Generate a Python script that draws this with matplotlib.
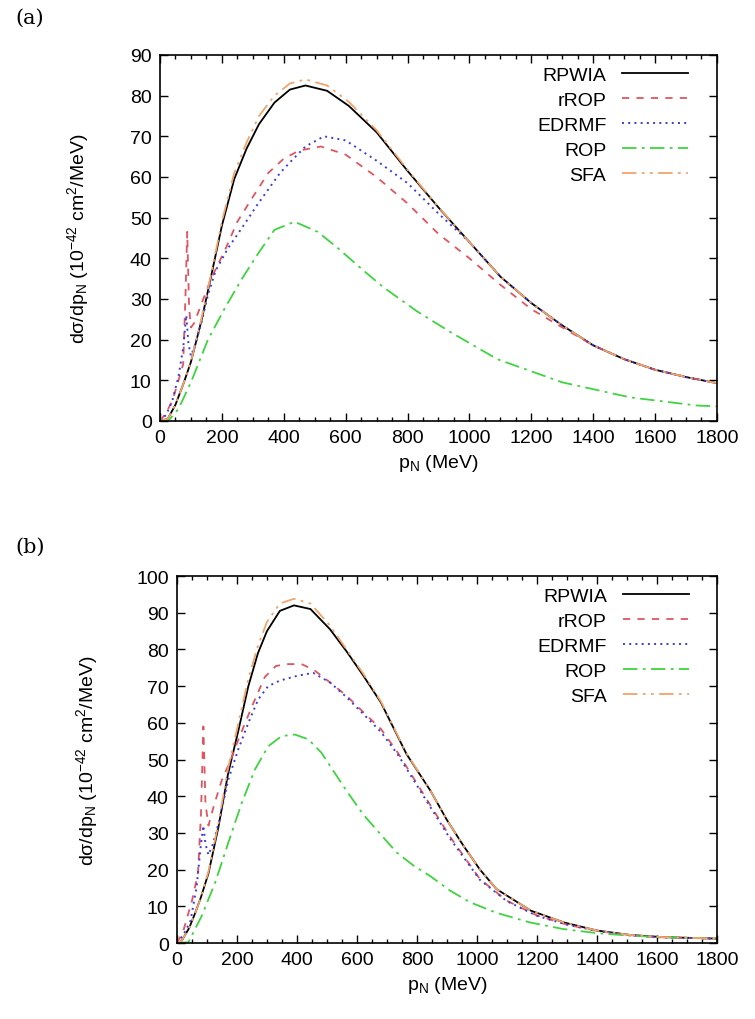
import numpy as np
import matplotlib
matplotlib.use("Agg")
import matplotlib.pyplot as plt
from matplotlib.ticker import MultipleLocator

plt.rcParams['font.family'] = ['Liberation Sans', 'DejaVu Sans']
plt.rcParams['mathtext.default'] = 'regular'

# ---- panel (a) ----
a_rpwia_x = [0, 25, 50, 75, 100, 135, 165, 200, 240, 280, 320, 370, 420, 470, 540, 610, 700,
             800, 900, 1000, 1100, 1200, 1300, 1400, 1500, 1600, 1700, 1800]
a_rpwia_y = [0, 0.5, 4, 9, 14.5, 25, 35.5, 48, 59.5, 67, 73, 78.3, 81.5, 82.5, 81.2, 77.5, 71,
             61.5, 52.5, 44, 35.5, 29, 23.5, 18.6, 15.2, 12.6, 10.8, 9.3]
a_sfa_y = [0, 0.5, 4, 9, 14.5, 25.5, 36, 49, 61, 68.5, 75, 80, 83, 84, 82.5, 78.5, 71.5,
           61.8, 52.6, 44, 35.5, 29, 23.5, 18.6, 15.2, 12.6, 10.8, 9.3]
a_rrop_x = [0, 20, 40, 60, 75, 82, 88, 94, 100, 110, 130, 165, 210, 250, 295, 350, 400, 450, 520,
            600, 700, 800, 900, 1000, 1100, 1200, 1300, 1400, 1500, 1600, 1700, 1800]
a_rrop_y = [0, 2, 5, 10, 14, 30, 46.5, 28, 23, 24, 28, 35, 42, 49, 54.5, 61, 64.5, 66.5, 67.5,
            65.5, 60, 53.5, 46, 40, 33.5, 27.5, 23, 18.6, 15.2, 12.6, 10.8, 9.3]
a_edrmf_x = [0, 20, 40, 60, 75, 85, 92, 100, 115, 135, 155, 180, 220, 265, 313, 388, 425, 470,
             530, 600, 700, 800, 900, 1000, 1100, 1200, 1300, 1400, 1500, 1600, 1700, 1800]
a_edrmf_y = [0, 1.5, 5, 11, 18, 26, 19, 16, 19, 24.5, 31, 37, 42.5, 47.5, 53, 61, 64, 67.5,
             70, 69, 64, 58.5, 51, 44, 35.5, 29, 23.5, 18.6, 15.2, 12.6, 10.8, 9.3]
a_rop_x = [0, 30, 60, 100, 155, 210, 265, 320, 370, 435, 510, 575, 650, 720, 830, 940, 1090,
           1300, 1520, 1735, 1800]
a_rop_y = [0, 0.3, 3, 9.5, 20, 27.8, 35, 41.5, 47, 49, 46.5, 42.5, 37.5, 33, 27, 21.8, 15.2,
           9.5, 5.8, 3.8, 3.6]

# ---- panel (b) ----
b_rpwia_x = [0, 15, 40, 60, 80, 105, 138, 170, 205, 238, 270, 300, 343, 390, 445, 510, 565, 620,
             680, 765, 845, 900, 955, 1010, 1065, 1180, 1290, 1400, 1510, 1620, 1800]
b_rpwia_y = [0, 0.5, 4, 8, 12.5, 19, 31.5, 46, 58, 70, 79, 85, 90.5, 92, 91, 85.5, 79.5, 73,
             65.5, 51.5, 41.5, 33.5, 26.5, 20, 14.7, 8.8, 5.6, 3.4, 2.2, 1.6, 1.2]
b_sfa_y = [0, 0.5, 4, 8, 12.5, 19.5, 32.5, 47.5, 60, 72, 81, 87.5, 92.5, 93.8, 92.5, 86.5, 80,
           73.5, 65.8, 51.7, 41.5, 33.5, 26.5, 20, 14.7, 8.8, 5.6, 3.4, 2.2, 1.6, 1.2]
b_rrop_x = [0, 20, 50, 70, 80, 88, 95, 105, 125, 150, 180, 205, 250, 293, 330, 370, 415, 455,
            510, 565, 620, 680, 735, 845, 910, 1010, 1100, 1200, 1300, 1400, 1500, 1600, 1800]
b_rrop_y = [0, 3, 11.5, 19, 35, 59, 38, 32, 38, 44.5, 50, 55.5, 64.5, 72.5, 75.5, 76, 76, 74.5,
            71, 67.4, 63, 58.3, 52, 37.5, 29, 17.4, 11.5, 7.5, 5, 3.3, 2.2, 1.6, 1.2]
b_edrmf_x = [0, 20, 45, 65, 80, 88, 95, 105, 120, 140, 171, 204, 238, 271, 304, 343, 400, 454,
             510, 565, 620, 680, 735, 845, 910, 1010, 1100, 1200, 1300, 1400, 1500, 1600, 1800]
b_edrmf_y = [0, 2, 6, 15, 27, 32, 27, 24, 27, 33, 44.5, 52.7, 60, 66.4, 70, 71.5, 72.8, 73.6,
             71, 67, 62.5, 57.5, 51.5, 37, 28.5, 17.2, 11.4, 7.4, 5, 3.3, 2.2, 1.6, 1.2]
b_rop_x = [0, 38, 82, 127, 171, 216, 260, 304, 349, 393, 438, 482, 510, 565, 621, 680, 732,
           790, 843, 910, 977, 1066, 1177, 1288, 1399, 1510, 1620, 1800]
b_rop_y = [0, 0.2, 7.3, 16.4, 27.3, 38.2, 47.3, 53.6, 56.4, 56.8, 55.5, 51.8, 48.3, 41.5, 35,
           29.5, 24.7, 21, 18.3, 14.3, 11.1, 8.2, 5.6, 3.8, 2.7, 2, 1.6, 1.2]

labels = ["RPWIA", "rROP", "EDRMF", "ROP", "SFA"]
ylabel = r'd$\sigma$/dp$_N$ (10$^{-42}$ cm$^2$/MeV)'
xlabel = r'p$_N$ (MeV)'

fig = plt.figure(figsize=(7.55, 10.2), dpi=100)
ax1 = fig.add_axes([0.2119, 0.5863, 0.7377, 0.3588])
ax2 = fig.add_axes([0.2344, 0.0745, 0.7152, 0.3598])


def draw(ax, rp_x, rp_y, sfa_y, rr_x, rr_y, ed_x, ed_y, ro_x, ro_y, ymax, lpad):
    ax.plot(rp_x, rp_y, color='black', lw=1.3, label=labels[0])
    ax.plot(rr_x, rr_y, color='#e0555f', lw=1.3, ls=(0, (4, 4)), label=labels[1])
    ax.plot(ed_x, ed_y, color='#3a3ad8', lw=1.4, ls=(0, (1, 2.2)), label=labels[2])
    ax.plot(ro_x, ro_y, color='#3fd43f', lw=1.3, ls=(0, (8, 3, 1.5, 3)), label=labels[3])
    ax.plot(rp_x, sfa_y, color='#f2a46a', lw=1.3, ls=(0, (8, 3, 1.5, 3, 1.5, 3)), label=labels[4])
    ax.set_xlim(0, 1800)
    ax.set_ylim(0, ymax)
    ax.xaxis.set_major_locator(MultipleLocator(200))
    ax.xaxis.set_minor_locator(MultipleLocator(50))
    ax.yaxis.set_major_locator(MultipleLocator(10))
    ax.tick_params(which='both', direction='in', top=True, right=True, labelsize=14)
    ax.tick_params(which='major', length=6, width=1, pad=6)
    ax.tick_params(which='minor', length=3, width=1)
    for s in ax.spines.values():
        s.set_linewidth(1.2)
    ax.set_xlabel(xlabel, fontsize=14, labelpad=4)
    ax.set_ylabel(ylabel, fontsize=14, labelpad=lpad)
    ax.legend(loc='upper right', bbox_to_anchor=(0.962, 0.99), frameon=False, markerfirst=False,
              fontsize=14, handlelength=3.4, handletextpad=0.8, labelspacing=0.38,
              borderaxespad=0)


draw(ax1, a_rpwia_x, a_rpwia_y, a_sfa_y, a_rrop_x, a_rrop_y, a_edrmf_x, a_edrmf_y,
     a_rop_x, a_rop_y, 90, 28)
draw(ax2, b_rpwia_x, b_rpwia_y, b_sfa_y, b_rrop_x, b_rrop_y, b_edrmf_x, b_edrmf_y,
     b_rop_x, b_rop_y, 100, 26)

fig.text(0.02, 0.982, '(a)', fontsize=15, family='DejaVu Serif', va='center')
fig.text(0.02, 0.463, '(b)', fontsize=15, family='DejaVu Serif', va='center')

fig.savefig('out.png', dpi=100)
